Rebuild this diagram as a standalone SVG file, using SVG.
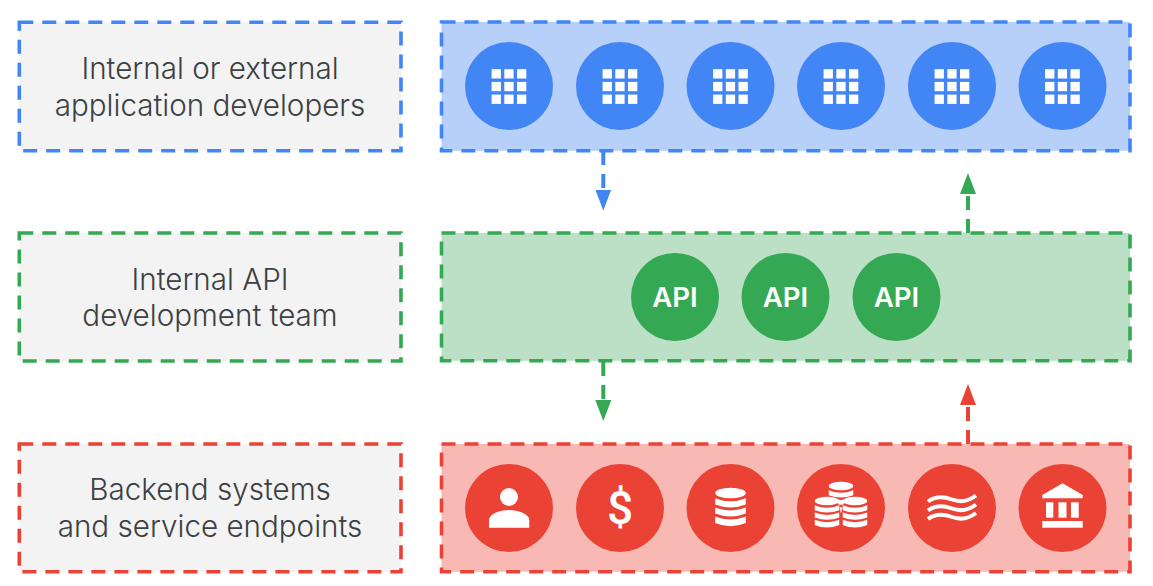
<svg xmlns="http://www.w3.org/2000/svg" width="1153" height="586" viewBox="0 0 1153 586">
<style>
.box{stroke-width:3.6;stroke-dasharray:14 9}
.b{stroke:#4285F4}.g{stroke:#34A853}.r{stroke:#EA4335}
.lab{fill:#F3F3F3}
.t{font-family:"Inter","Liberation Sans",sans-serif;font-size:29.6px;font-weight:300;fill:#3C4043;text-anchor:middle}
.api{font-family:"Inter","Liberation Sans",sans-serif;font-size:27.6px;font-weight:600;fill:#fff;text-anchor:middle}
.dollar{font-family:"Roboto","Liberation Sans",sans-serif;font-size:46px;font-weight:500;fill:#fff;text-anchor:middle}
.cb{fill:#4285F4}.cg{fill:#34A853}.cr{fill:#EA4335}
.conn{fill:none;stroke-width:4;stroke-dasharray:14 9}
.w{fill:#fff}
.wave{fill:none;stroke:#fff;stroke-width:4}
</style>
<defs>
<marker id="mb" markerUnits="userSpaceOnUse" markerWidth="21" markerHeight="16" refX="0" refY="8" viewBox="0 0 21 16" orient="auto"><path d="M0 0L21 8L0 16Z" fill="#4285F4"/></marker>
<marker id="mg" markerUnits="userSpaceOnUse" markerWidth="21" markerHeight="16" refX="0" refY="8" viewBox="0 0 21 16" orient="auto"><path d="M0 0L21 8L0 16Z" fill="#34A853"/></marker>
<marker id="mr" markerUnits="userSpaceOnUse" markerWidth="21" markerHeight="16" refX="0" refY="8" viewBox="0 0 21 16" orient="auto"><path d="M0 0L21 8L0 16Z" fill="#EA4335"/></marker>
<g id="grid" class="w">
<rect x="-17.4" y="-17.4" width="9.3" height="9.3"/><rect x="-4.7" y="-17.4" width="9.3" height="9.3"/><rect x="8" y="-17.4" width="9.3" height="9.3"/>
<rect x="-17.4" y="-4.7" width="9.3" height="9.3"/><rect x="-4.7" y="-4.7" width="9.3" height="9.3"/><rect x="8" y="-4.7" width="9.3" height="9.3"/>
<rect x="-17.4" y="8" width="9.3" height="9.3"/><rect x="-4.7" y="8" width="9.3" height="9.3"/><rect x="8" y="8" width="9.3" height="9.3"/>
</g>
<g id="db" class="w">
<ellipse cx="0" cy="-15" rx="15.3" ry="5.3"/>
<path d="M-15.3-9.8Q0-3.5 15.3-9.8V-3.5Q0 2.5-15.3-3.5Z"/>
<path d="M-15.3-0.6Q0 5.5 15.3-0.6V5.5Q0 11.5-15.3 5.5Z"/>
<path d="M-15.3 8.4Q0 14.5 15.3 8.4V15Q0 21.5-15.3 15Z"/>
</g>
<g id="wave"><path class="wave" d="M-24 3C-16-3-8-2 0 1S16 3 24-3"/></g>
</defs>

<g id="connectors">
<path class="conn b" d="M603.3 151V189.5" marker-end="url(#mb)"/>
<path class="conn g" d="M968 233V194" marker-end="url(#mg)"/>
<path class="conn g" d="M603.3 362V400" marker-end="url(#mg)"/>
<path class="conn r" d="M968 444V405" marker-end="url(#mr)"/>
</g>

<g id="label-developers">
<rect class="lab box b" x="19.3" y="22.3" width="381.7" height="128.5"/>
<text class="t" x="210" y="79">Internal or external</text>
<text class="t" x="210" y="115.7">application developers</text>
</g>
<g id="label-api-team">
<rect class="lab box g" x="19.3" y="233" width="381.7" height="128"/>
<text class="t" x="210" y="290">Internal API</text>
<text class="t" x="210" y="326">development team</text>
</g>
<g id="label-backend">
<rect class="lab box r" x="19.3" y="444" width="381.7" height="127.7"/>
<text class="t" x="210" y="500">Backend systems</text>
<text class="t" x="210" y="537">and service endpoints</text>
</g>

<g id="apps">
<rect class="box b" fill="#B7D0F9" x="441.5" y="22" width="688.5" height="128.8"/>
<g id="app-1"><circle class="cb" cx="509" cy="86" r="44"/><use href="#grid" x="509" y="86.6"/></g>
<g id="app-2"><circle class="cb" cx="620" cy="86" r="44"/><use href="#grid" x="620" y="86.6"/></g>
<g id="app-3"><circle class="cb" cx="730.5" cy="86" r="44"/><use href="#grid" x="730.5" y="86.6"/></g>
<g id="app-4"><circle class="cb" cx="841" cy="86" r="44"/><use href="#grid" x="841" y="86.6"/></g>
<g id="app-5"><circle class="cb" cx="952" cy="86" r="44"/><use href="#grid" x="952" y="86.6"/></g>
<g id="app-6"><circle class="cb" cx="1062.5" cy="86" r="44"/><use href="#grid" x="1062.5" y="86.6"/></g>
</g>

<g id="apis">
<rect class="box g" fill="#BBE0C6" x="441.5" y="233" width="688.5" height="127.8"/>
<g id="api-1"><circle class="cg" cx="675" cy="297" r="44"/><text class="api" x="675" y="307">API</text></g>
<g id="api-2"><circle class="cg" cx="785.5" cy="297" r="44"/><text class="api" x="785.5" y="307">API</text></g>
<g id="api-3"><circle class="cg" cx="896.5" cy="297" r="44"/><text class="api" x="896.5" y="307">API</text></g>
</g>

<g id="backends">
<rect class="box r" fill="#F8B9B4" x="441.5" y="444" width="688.5" height="127.7"/>
<g id="backend-user"><circle class="cr" cx="509" cy="508" r="44"/>
<circle class="w" cx="509" cy="497" r="9"/>
<path class="w" d="M489 527.7V520C489 514 500 510 509 510S529.3 514 529.3 520V527.7Z"/></g>
<g id="backend-money"><circle class="cr" cx="620" cy="508" r="44"/><text class="dollar" x="620" y="524">$</text></g>
<g id="backend-db"><circle class="cr" cx="730.5" cy="508" r="44"/><use href="#db" x="730.5" y="508"/></g>
<g id="backend-coins"><circle class="cr" cx="841" cy="508" r="44"/>
<use href="#db" transform="translate(841 498) scale(.8)"/>
<ellipse class="cr" cx="827" cy="513" rx="13.5" ry="17"/><ellipse class="cr" cx="855" cy="513" rx="13.5" ry="17"/>
<use href="#db" transform="translate(827 513) scale(.8)"/>
<use href="#db" transform="translate(855 513) scale(.8)"/></g>
<g id="backend-stream"><circle class="cr" cx="952" cy="508" r="44"/>
<use href="#wave" x="952" y="498.5"/><use href="#wave" x="952" y="507.5"/><use href="#wave" x="952" y="516"/></g>
<g id="backend-bank"><circle class="cr" cx="1062.5" cy="508" r="44"/>
<path class="w" d="M1062.5 483.3L1082.7 495V498.3H1042.3V495Z"/>
<rect class="w" x="1046" y="502.3" width="7.3" height="15.4"/><rect class="w" x="1058.5" y="502.3" width="8" height="15.4"/><rect class="w" x="1071" y="502.3" width="7.7" height="15.4"/>
<rect class="w" x="1042.3" y="521" width="40.4" height="6.7"/></g>
</g>
</svg>
